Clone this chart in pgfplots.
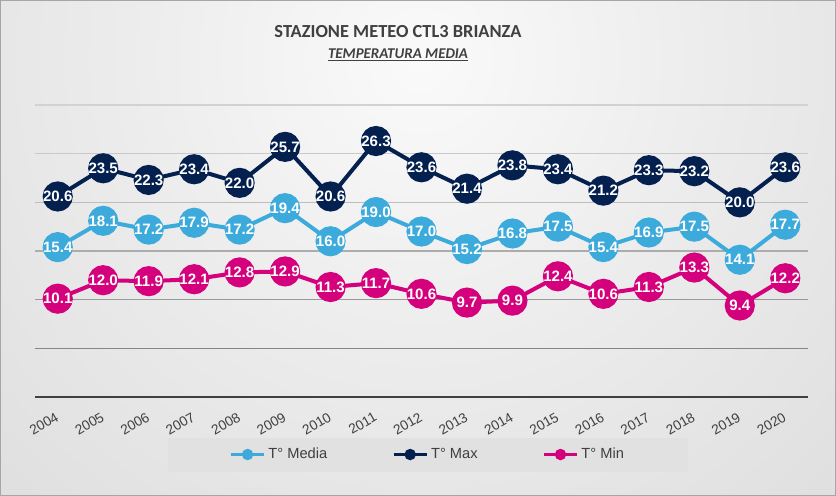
\documentclass[border=0pt]{standalone}
\usepackage{pgfplots}
\pgfplotsset{compat=1.18}
\usepackage{fontspec}
\setmainfont{Liberation Sans}
\newfontfamily\titlefont{Carlito}
\definecolor{cMedia}{HTML}{3DAADC}
\definecolor{cMax}{HTML}{03204F}
\definecolor{cMin}{HTML}{D4007C}
\definecolor{txt}{HTML}{404040}
\definecolor{bgA}{HTML}{FAFAFA}
\definecolor{bgB}{HTML}{ECECEC}
\definecolor{bgC}{HTML}{DADADA}
\definecolor{bgD}{HTML}{C0C0C0}
\definecolor{legfill}{HTML}{E1E1E1}
\pgfdeclareradialshading{bgshade}{\pgfpoint{0bp}{0bp}}{color(0bp)=(bgA); color(12bp)=(bgB); color(30bp)=(bgC); color(50bp)=(bgD)}
\begin{document}
\begin{tikzpicture}
\useasboundingbox (0,0) rectangle (627pt,372pt);
\begin{scope}
\clip (0,0) rectangle (627pt,372pt);
\shade[shading=bgshade] (315pt,327pt) circle (460pt);
\end{scope}
\draw[color=gray!70, line width=0.6pt] (0.3pt,0.3pt) rectangle (626.7pt,371.7pt);
\node[font=\titlefont\bfseries\fontsize{13.8}{15}\selectfont, text=txt] at (298.5pt,348pt) {STAZIONE METEO CTL3 BRIANZA};
\node[font=\titlefont\bfseries\itshape\fontsize{11.2}{13}\selectfont, text=txt] at (298.5pt,331pt) {\underline{TEMPERATURA MEDIA}};
\begin{axis}[
  scale only axis,
  width=579.75pt, height=219pt,
  at={(26.25pt,74.25pt)}, anchor=south west,
  xmin=-0.5, xmax=16.5, ymin=0, ymax=30,
  axis x line*=bottom, axis y line=none,
  x axis line style={color=txt, line width=1.4pt, -},
  xtick={0,...,16},
  xticklabels={2004,2005,2006,2007,2008,2009,2010,2011,2012,2013,2014,2015,2016,2017,2018,2019,2020},
  major tick length=0pt,
  x tick label style={rotate=30, anchor=north east, font=\fontsize{10.3}{12}\selectfont, text=txt, xshift=-4pt, yshift=-5pt},
  ytick=\empty,
  clip=false,
  /pgf/number format/assume math mode=true,
  nodes near coords={\pgfmathprintnumber[fixed,fixed zerofill,precision=1]{\pgfplotspointmeta}},
  every node near coord/.append style={anchor=center, text=white, font=\bfseries\fontsize{11.3}{12}\selectfont, inner sep=0pt},
  legend columns=3,
  legend style={at={(0.5084,-0.197)}, anchor=center, fill=legfill, draw=none,
    font=\fontsize{11}{13}\selectfont, text=txt, inner xsep=46pt, inner ysep=6pt},
  /tikz/every even column/.append style={column sep=46.5pt},
]
\draw[color=gray!35, line width=0.8pt] (axis cs:-0.5,30) -- (axis cs:16.5,30);
\draw[color=gray!42, line width=0.8pt] (axis cs:-0.5,25) -- (axis cs:16.5,25);
\draw[color=gray!52, line width=0.8pt] (axis cs:-0.5,20) -- (axis cs:16.5,20);
\draw[color=gray!65, line width=0.8pt] (axis cs:-0.5,15) -- (axis cs:16.5,15);
\draw[color=gray!80, line width=0.8pt] (axis cs:-0.5,10) -- (axis cs:16.5,10);
\draw[color=gray!95, line width=0.8pt] (axis cs:-0.5,5) -- (axis cs:16.5,5);
\addplot[color=cMedia, line width=3pt, mark=*, mark size=9.8pt, mark options={draw=none, fill=cMedia},
  legend image code/.code={\draw[cMedia, line width=2.3pt] (0pt,0pt) -- (25pt,0pt); \fill[cMedia] (12.5pt,0pt) circle (2.7pt);}]
coordinates {(0,15.4) (1,18.1) (2,17.2) (3,17.9) (4,17.2) (5,19.4) (6,16.0) (7,19.0) (8,17.0) (9,15.2) (10,16.8) (11,17.5) (12,15.4) (13,16.9) (14,17.5) (15,14.1) (16,17.7)};
\addlegendentry{T° Media}
\addplot[color=cMax, line width=3pt, mark=*, mark size=9.8pt, mark options={draw=none, fill=cMax},
  legend image code/.code={\draw[cMax, line width=2.3pt] (0pt,0pt) -- (25pt,0pt); \fill[cMax] (12.5pt,0pt) circle (2.7pt);}]
coordinates {(0,20.6) (1,23.5) (2,22.3) (3,23.4) (4,22.0) (5,25.7) (6,20.6) (7,26.3) (8,23.6) (9,21.4) (10,23.8) (11,23.4) (12,21.2) (13,23.3) (14,23.2) (15,20.0) (16,23.6)};
\addlegendentry{T° Max}
\addplot[color=cMin, line width=3pt, mark=*, mark size=9.8pt, mark options={draw=none, fill=cMin},
  legend image code/.code={\draw[cMin, line width=2.3pt] (0pt,0pt) -- (25pt,0pt); \fill[cMin] (12.5pt,0pt) circle (2.7pt);}]
coordinates {(0,10.1) (1,12.0) (2,11.9) (3,12.1) (4,12.8) (5,12.9) (6,11.3) (7,11.7) (8,10.6) (9,9.7) (10,9.9) (11,12.4) (12,10.6) (13,11.3) (14,13.3) (15,9.4) (16,12.2)};
\addlegendentry{T° Min}
\end{axis}
\end{tikzpicture}
\end{document}
